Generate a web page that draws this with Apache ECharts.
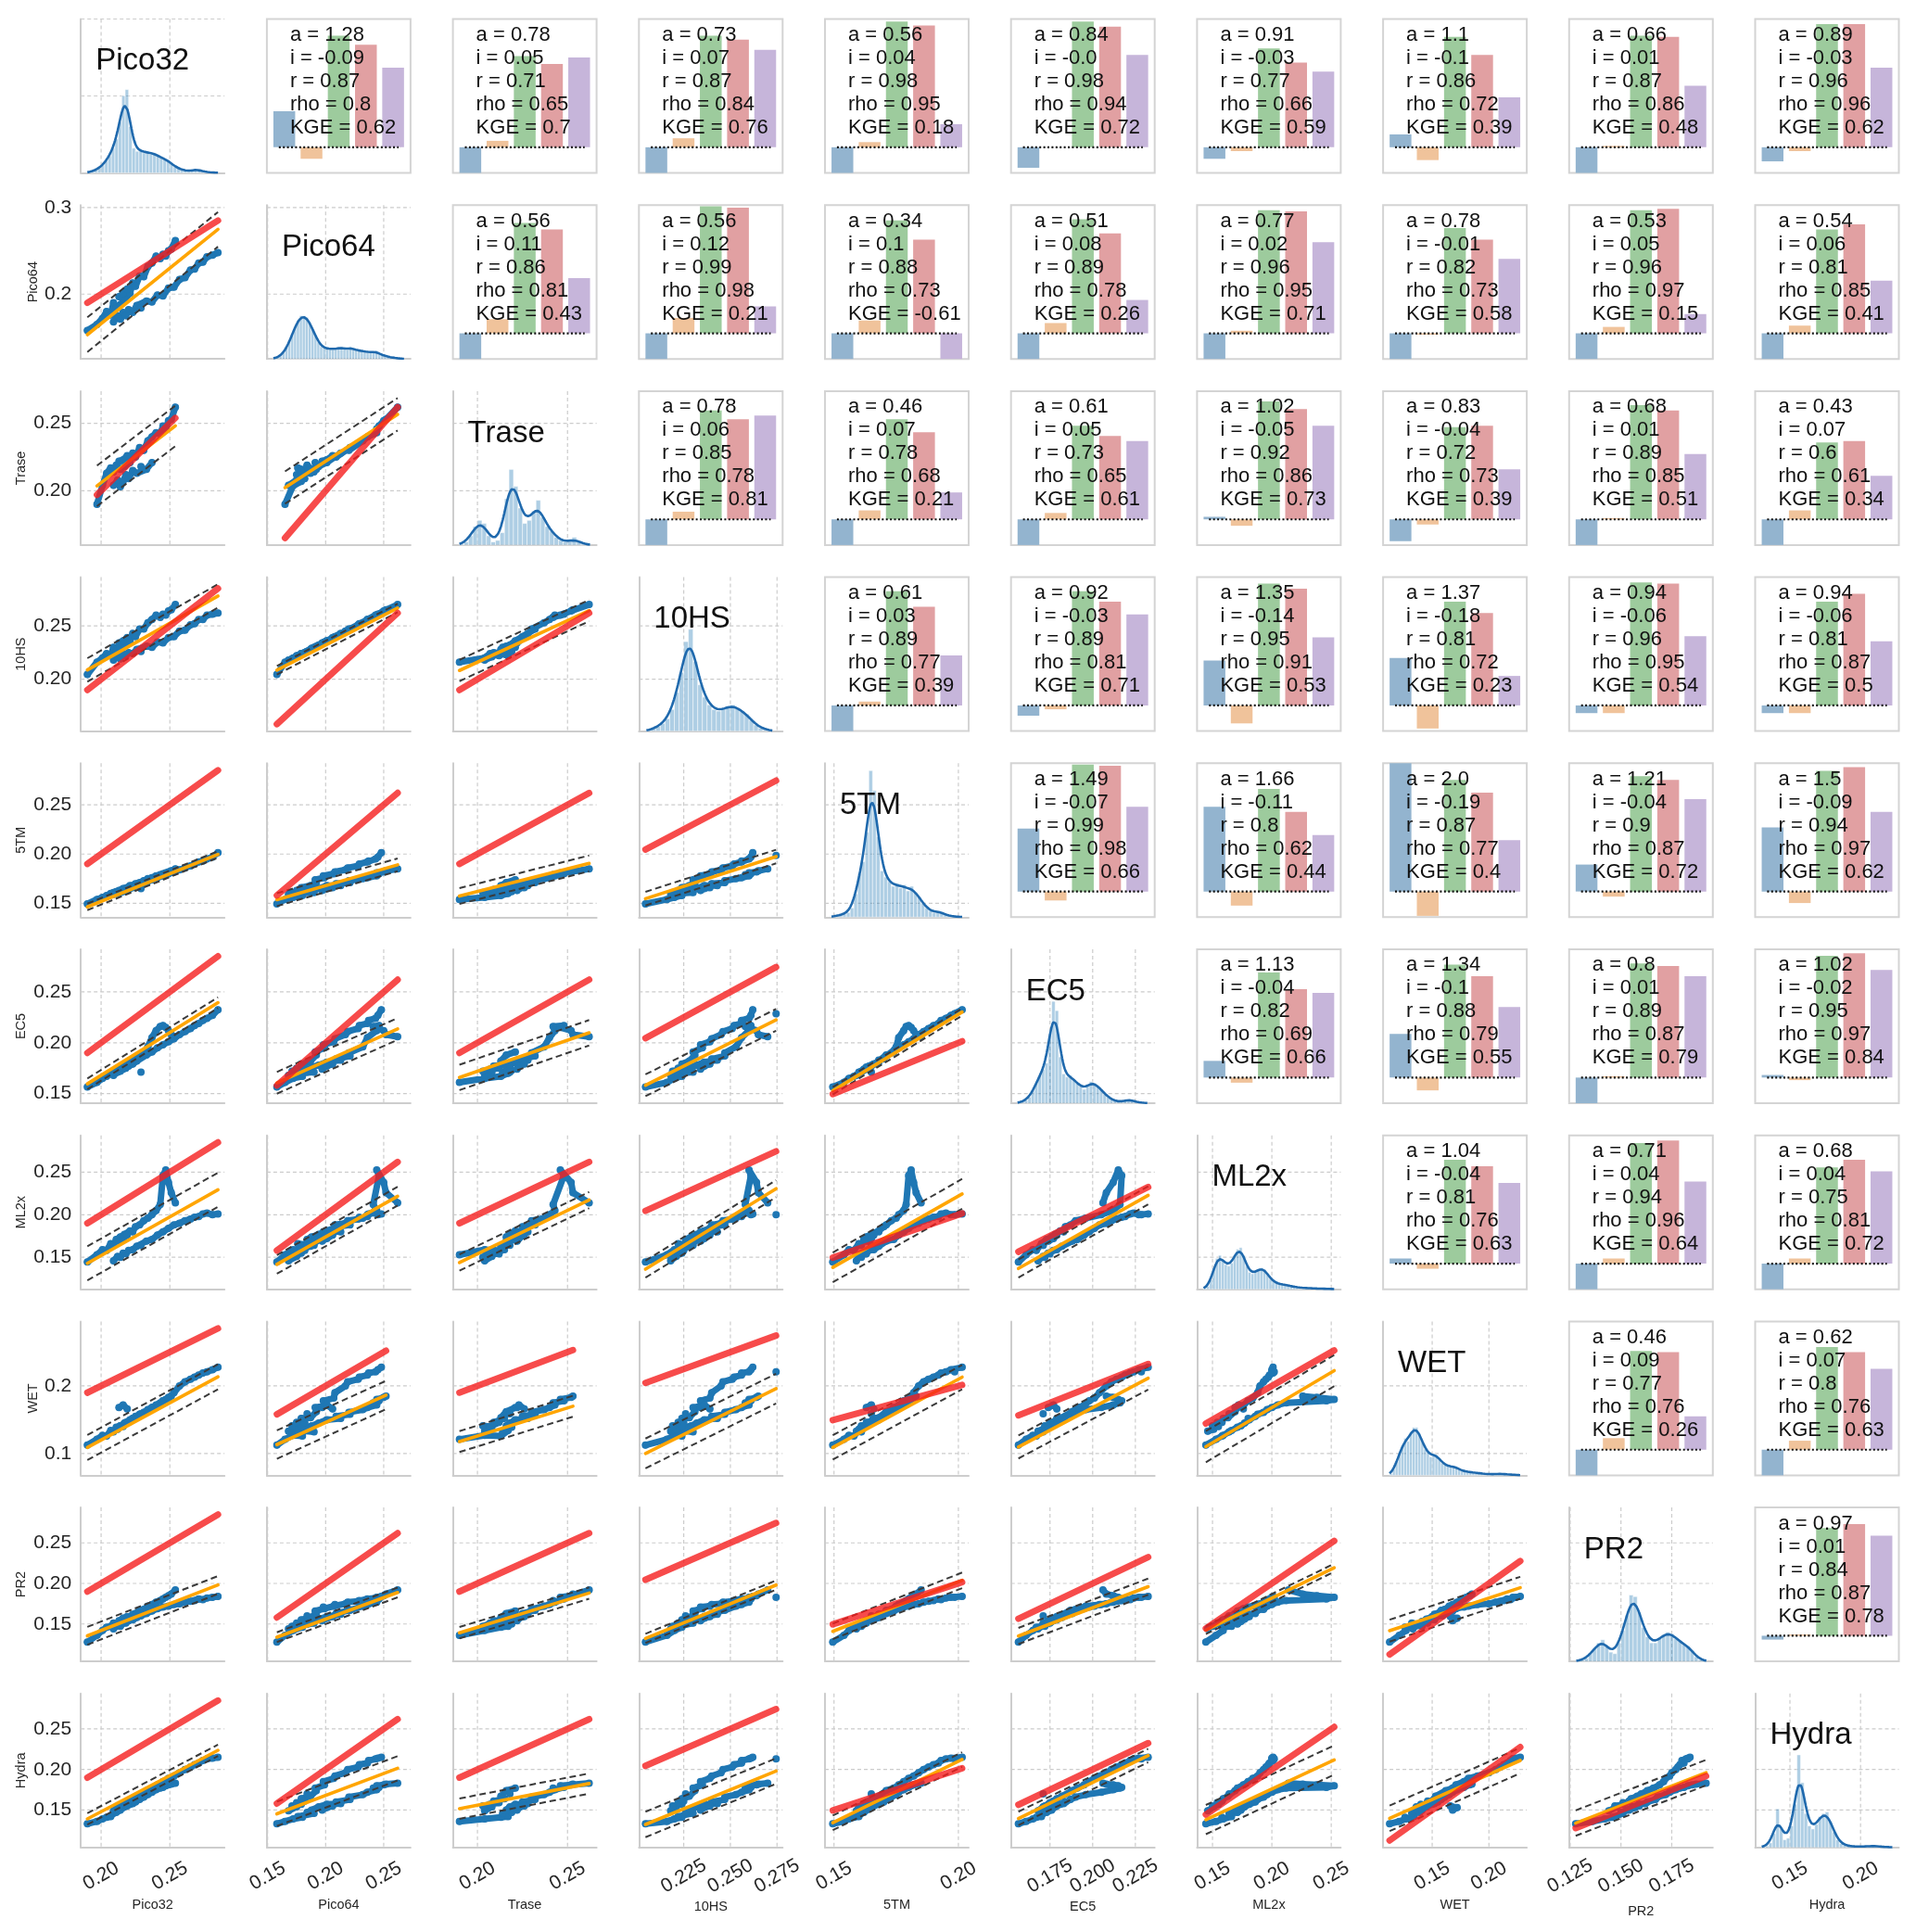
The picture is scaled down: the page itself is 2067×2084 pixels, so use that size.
<!DOCTYPE html>
<html>
<head>
<meta charset="utf-8">
<title>Soil moisture sensor pair plot</title>
<script src="https://cdn.jsdelivr.net/npm/echarts/dist/echarts.min.js"></script>
<style>
html,body{margin:0;padding:0;background:#ffffff;}
#chart{width:2067px;height:2084px;}
</style>
</head>
<body>
<div id="chart"></div>
<script>
// ---------------- DATA ----------------
const sensors = ['Pico32','Pico64','Trase','10HS','5TM','EC5','ML2x','WET','PR2','Hydra'];

// paired readings (same rows = same time); null = missing / segment break
const sPico32 = [0.190,0.197,0.201,0.204,0.207,0.209,0.211,0.214,0.217,0.221,0.223,0.225,0.228,0.231,0.234,0.237,0.240,0.243,0.245,0.247,0.249,0.251,0.254,null,
  0.209,0.212,0.214,0.216,0.218,0.220,0.223,0.226,0.233,0.237,0.241,0.245,0.249,0.253,0.257,0.261,0.265,0.268,0.271,0.274,0.277,0.281,0.285,null,
  0.213,0.216,0.219,null,0.229,null,null];
const sPico64 = [0.158,0.165,0.172,0.180,0.176,0.190,0.184,0.188,0.194,0.201,0.213,0.209,0.221,0.220,0.232,0.236,0.244,0.241,0.246,0.244,0.250,0.252,0.262,null,
  0.168,0.175,0.171,0.179,0.175,0.182,0.179,0.187,0.192,0.191,0.199,0.198,0.207,0.208,0.217,0.219,0.228,0.229,0.236,0.237,0.243,0.245,0.248,null,
  0.197,0.201,0.206,null,0.184,null,null];
const sTrase = [null,0.190,0.204,0.213,0.217,0.214,0.219,0.216,0.218,0.221,0.228,0.225,0.232,0.230,0.237,0.240,0.243,0.242,0.248,0.246,0.252,0.253,0.262,null,
  0.204,0.208,0.203,0.207,0.212,0.209,0.215,0.213,0.216,0.221,null,null,null,null,null,null,null,null,null,null,null,null,null,null,
  0.222,0.223,0.226,null,0.218,null,null];
const s10HS = [0.2045,0.216,0.220,0.224,0.222,0.230,0.226,0.229,0.232,0.236,0.243,0.240,0.247,0.247,0.253,0.256,0.260,0.258,0.261,0.260,0.264,0.265,0.270,null,
  0.218,0.221,0.219,0.224,0.222,0.225,0.224,0.228,0.231,0.230,0.235,0.234,0.239,0.240,0.245,0.246,0.251,0.252,0.256,0.256,0.260,0.261,0.262,null,
  0.234,0.236,0.239,null,0.226,null,0.2745];
const s5TM = [0.1495,0.154,0.156,0.158,0.160,0.161,0.162,0.163,0.165,0.168,0.168,0.170,0.171,0.173,0.175,0.176,0.178,0.179,0.180,0.181,0.182,0.183,0.185,null,
  0.159,0.160,0.161,0.162,0.163,0.164,0.166,0.168,0.171,0.174,0.176,0.178,0.180,0.182,0.184,0.186,0.188,0.190,0.192,0.193,0.195,0.197,0.2015,null,
  0.163,0.165,0.166,null,0.165,null,0.1985];
const sEC5 = [0.1565,0.161,0.165,0.167,0.170,0.171,0.173,0.176,0.178,0.181,0.183,0.184,0.187,0.190,0.196,0.205,0.212,0.216,0.217,0.215,0.212,0.208,0.206,null,
  0.168,0.171,0.172,0.174,0.175,0.177,0.179,0.182,0.188,0.191,0.195,0.198,0.201,0.204,0.208,0.211,0.214,0.217,0.219,0.222,0.224,0.227,0.2325,null,
  0.174,0.177,0.179,null,0.171,null,0.2285];
const sML2x = [0.1444,0.153,0.159,0.158,0.166,0.164,0.171,0.174,0.177,0.181,0.180,0.186,0.188,0.193,0.196,0.200,0.205,0.212,0.246,0.2525,0.238,0.226,0.214,null,
  0.146,0.151,0.150,0.155,0.154,0.158,0.159,0.163,0.169,0.171,0.176,0.180,0.184,0.188,0.190,0.193,0.195,0.197,0.198,0.201,0.202,0.200,0.201,null,
  0.169,0.172,0.176,null,0.164,null,0.200];
const sWET = [0.1125,0.121,0.127,0.126,0.134,0.132,0.139,0.141,0.145,0.150,0.152,0.155,0.158,0.161,0.165,0.168,0.172,0.175,0.178,0.180,0.183,0.185,null,null,
  0.133,0.136,0.141,0.140,0.146,0.146,0.152,0.153,0.162,0.168,0.171,0.178,0.182,0.190,0.200,0.206,0.210,0.213,0.216,0.219,0.221,0.224,0.2276,null,
  0.168,0.172,0.166,null,0.159,null,0.221];
const sPR2 = [0.1277,0.136,0.142,0.146,0.147,0.151,0.150,0.153,0.156,0.159,0.162,0.163,0.167,0.168,0.172,0.174,0.177,0.179,0.181,0.183,0.185,0.187,0.1919,null,
  0.144,0.148,0.147,0.151,0.151,0.154,0.155,0.158,0.163,0.166,0.169,0.171,0.172,0.174,0.175,0.177,0.178,0.179,0.181,0.180,0.182,0.183,0.184,null,
  0.154,0.157,0.159,null,0.160,null,0.183];
const sHydra = [0.133,0.136,0.139,0.141,0.142,0.146,0.147,0.150,0.154,0.157,0.158,0.160,0.163,0.166,0.169,0.172,0.175,0.177,0.178,0.180,0.181,0.182,0.183,null,
  0.149,0.154,0.155,0.157,0.159,0.161,0.164,0.167,0.174,0.177,0.181,0.185,0.189,0.192,0.196,0.200,0.203,0.206,0.208,0.211,0.213,0.214,0.215,null,
  0.150,0.153,0.155,null,0.170,null,0.213];

// upper-triangle statistics: row i holds pairs (i, j) for j = i+1 .. 9
const statA = [
  [1.28,0.78,0.73,0.56,0.84,0.91,1.1,0.66,0.89],
  [0.56,0.56,0.34,0.51,0.77,0.78,0.53,0.54],
  [0.78,0.46,0.61,1.02,0.83,0.68,0.43],
  [0.61,0.92,1.35,1.37,0.94,0.94],
  [1.49,1.66,2.0,1.21,1.5],
  [1.13,1.34,0.8,1.02],
  [1.04,0.71,0.68],
  [0.46,0.62],
  [0.97]];
const statI = [
  [-0.09,0.05,0.07,0.04,-0.0,-0.03,-0.1,0.01,-0.03],
  [0.11,0.12,0.1,0.08,0.02,-0.01,0.05,0.06],
  [0.06,0.07,0.05,-0.05,-0.04,0.01,0.07],
  [0.03,-0.03,-0.14,-0.18,-0.06,-0.06],
  [-0.07,-0.11,-0.19,-0.04,-0.09],
  [-0.04,-0.1,0.01,-0.02],
  [-0.04,0.04,0.04],
  [0.09,0.07],
  [0.01]];
const statR = [
  [0.87,0.71,0.87,0.98,0.98,0.77,0.86,0.87,0.96],
  [0.86,0.99,0.88,0.89,0.96,0.82,0.96,0.81],
  [0.85,0.78,0.73,0.92,0.72,0.89,0.6],
  [0.89,0.89,0.95,0.81,0.96,0.81],
  [0.99,0.8,0.87,0.9,0.94],
  [0.82,0.88,0.89,0.95],
  [0.81,0.94,0.75],
  [0.77,0.8],
  [0.84]];
const statRho = [
  [0.8,0.65,0.84,0.95,0.94,0.66,0.72,0.86,0.96],
  [0.81,0.98,0.73,0.78,0.95,0.73,0.97,0.85],
  [0.78,0.68,0.65,0.86,0.73,0.85,0.61],
  [0.77,0.81,0.91,0.72,0.95,0.87],
  [0.98,0.62,0.77,0.87,0.97],
  [0.69,0.79,0.87,0.97],
  [0.76,0.96,0.81],
  [0.76,0.76],
  [0.87]];
const statKGE = [
  [0.62,0.7,0.76,0.18,0.72,0.59,0.39,0.48,0.62],
  [0.43,0.21,-0.61,0.26,0.71,0.58,0.15,0.41],
  [0.81,0.21,0.61,0.73,0.39,0.51,0.34],
  [0.39,0.71,0.53,0.23,0.54,0.5],
  [0.66,0.44,0.4,0.72,0.62],
  [0.66,0.55,0.79,0.84],
  [0.63,0.64,0.72],
  [0.26,0.63],
  [0.78]];

// half-width of dashed band around the fit, lower panels: row r (1..9), col c (0..r-1)
const band = [
  [0.02],
  [0.015,0.012],
  [0.011,0.004,0.010],
  [0.0033,0.0065,0.008,0.0069],
  [0.0053,0.0107,0.0125,0.0107,0.0036],
  [0.020,0.011,0.0095,0.010,0.0175,0.0106],
  [0.0185,0.021,0.0155,0.022,0.018,0.017,0.023],
  [0.011,0.006,0.007,0.0057,0.0096,0.010,0.005,0.0135],
  [0.007,0.015,0.0125,0.0157,0.009,0.0083,0.018,0.0157,0.0157]];

// diagonal histograms (bar heights in shared density units)
const histStart = [0.19,0.155,0.19,0.205,0.149,0.156,0.1425,0.1125,0.128,0.13];
const histStep  = [0.0025,0.0025,0.0025,0.0025,0.0015,0.002,0.0025,0.0025,0.002,0.0025];
const histHeights = [
  [0.5,1,2,3,5,8,11,16,22,33,50,54,30,16,14,15,13,14,12,13,11,10,9,8,6,4,3,2,1.5,1,1.5,2.5,2,1,0.5,0.5,0.3,0.2],
  [0.5,1,2,4,7,11,16,21,25,28,28,27,24,19,15,11,8,7,6.5,7,6,7,6.5,8,6.5,6,8,6,6,5.5,5,5,4.5,4.5,4,5.5,3,2.5,2,1.5,1,0.8,0.5,0.3,0.2],
  [0.5,2,6,12,16,14,6,2,3,8,30,49,38,24,14,16,22,29,18,12,9,5,3,2,2,5,2,0.5,0.3],
  [0.5,1.5,3,5,8,14,25,38,58,66,45,30,22,17,14,13,14,16,17,15,13,11,7,4,2,1,0.5],
  [0.5,1,1.5,2,3,6,15,28,36,55,95,82,52,30,26,23,20,22,19,21,17,20,16,13,9,6,4,3,4,3,1.5,1,0.5,0.3,0.2],
  [0.5,1,2,4,8,13,18,22,26,45,66,60,30,19,17,18,15,13,11,9,11,14,13,11,9,6,4,2.5,1.5,1,1,1.5,2.5,2,1,0.5,0.3,0.2],
  [0.5,2,6,14,20,22,19,16,15,17,22,26,27,22,15,11,10,11,13,14,13,10,7,5,4,3.5,3,3,2.5,2,1.5,1.5,1,1,0.8,0.8,0.6,0.5,0.5,0.4,0.4,0.3,0.2,0.2],
  [1,4,9,14,19,24,22,28,31,31,27,22,17,15,12,14,13,11,8,7,6,5.5,6,5,4,3,2.5,2.5,2,2,1.5,1.5,1.2,1,0.8,0.8,0.7,0.8,1,1,0.8,0.6,0.5,0.4,0.3,0.2],
  [0.5,1,2,5,8,12,14,10,6,5,12,20,30,43,42,32,22,16,12,12,15,17,19,18,15,13,11,10,7,3,1,0.5],
  [0.5,1,3,9,25,12,5,6,14,28,60,42,22,14,12,15,20,22,23,17,10,5,2.5,1.5,1,0.8,0.6,0.6,0.6,0.7,0.8,1,0.9,0.6,0.4,0.3,0.2]];

// tick values and labels
const xTicks = [[0.20,0.25],[0.15,0.20,0.25],[0.20,0.25],[0.225,0.250,0.275],[0.15,0.20],[0.175,0.200,0.225],[0.15,0.20,0.25],[0.15,0.20],[0.125,0.150,0.175],[0.15,0.20]];
const xTickLabels = [['0.20','0.25'],['0.15','0.20','0.25'],['0.20','0.25'],['0.225','0.250','0.275'],['0.15','0.20'],['0.175','0.200','0.225'],['0.15','0.20','0.25'],['0.15','0.20'],['0.125','0.150','0.175'],['0.15','0.20']];
const yTicks = [[0.5,1.0],[0.2,0.3],[0.20,0.25],[0.20,0.25],[0.15,0.20,0.25],[0.15,0.20,0.25],[0.15,0.20,0.25],[0.1,0.2],[0.15,0.20,0.25],[0.15,0.20,0.25]];
const yTickLabels = [['',''],['0.2','0.3'],['0.20','0.25'],['0.20','0.25'],['0.15','0.20','0.25'],['0.15','0.20','0.25'],['0.15','0.20','0.25'],['0.1','0.2'],['0.15','0.20','0.25'],['0.15','0.20','0.25']];

// ---------------- LAYOUT / STYLE ----------------
const S = [sPico32,sPico64,sTrase,s10HS,s5TM,sEC5,sML2x,sWET,sPR2,sHydra];
const N = sensors.length;
const L0 = 87.2, T0 = 20.5, STEP = 200.7, PW = 155, PH = 166;
const Lx = c => L0 + c*STEP, Ty = r => T0 + r*STEP;
const FONT = "'Liberation Sans', Arial, Helvetica, sans-serif";
const TXT = '#262626';
const BLUE = '#1f77b4';
const BAR_COLORS = ['#93b4cf','#f0c39b','#9dcb9d','#e1a0a2','#c6b5da'];
const SPINE = {show:true, onZero:false, lineStyle:{color:'#cdcdcd', width:2}};

function pyStr(v){ if (Object.is(v,-0)) return '-0.0'; if (Number.isInteger(v)) return v.toFixed(1); return String(v); }
function pad(lo,hi){ const d=(hi-lo)*0.05; return [lo-d, hi+d]; }
function inRange(v,lim){ return v>=lim[0]-1e-9 && v<=lim[1]+1e-9; }
function fmt(ticks,labels){ return v => { for (let i=0;i<ticks.length;i++) if (Math.abs(ticks[i]-v)<1e-7) return labels[i]; return ''; }; }

// per-panel point lists and extents
const panels = {};
for (let r=1;r<N;r++) for (let c=0;c<r;c++){
  const pts=[]; let x0=Infinity,x1=-Infinity,y0=Infinity,y1=-Infinity;
  for (let k=0;k<S[0].length;k++){
    const x=S[c][k], y=S[r][k];
    if (x==null || y==null){ pts.push(['-','-']); continue; }
    pts.push([x,y]);
    x0=Math.min(x0,x); x1=Math.max(x1,x); y0=Math.min(y0,y); y1=Math.max(y1,y);
  }
  panels[r+'_'+c] = {pts,x0,x1,y0,y1,a:statA[c][r-c-1],b:statI[c][r-c-1],bd:band[r-1][c]};
}
// shared axis limits (columns share x, rows share y)
const xlim=[], ylim=[];
for (let c=0;c<N;c++){
  let lo=histStart[c], hi=histStart[c]+histStep[c]*histHeights[c].length;
  for (let r=c+1;r<N;r++){ const p=panels[r+'_'+c]; lo=Math.min(lo,p.x0); hi=Math.max(hi,p.x1); }
  xlim.push(pad(lo,hi));
}
ylim.push([0,1]);
for (let r=1;r<N;r++){
  let lo=Infinity, hi=-Infinity;
  for (let c=0;c<r;c++){
    const p=panels[r+'_'+c]; const f0=p.a*p.x0+p.b, f1=p.a*p.x1+p.b;
    lo=Math.min(lo,p.y0,p.x0,f0-p.bd,f1-p.bd);
    hi=Math.max(hi,p.y1,p.x1,f0+p.bd,f1+p.bd);
  }
  ylim.push(pad(lo,hi));
}
// KDE from histogram bins
const kdeCurves = histHeights.map((h,s)=>{
  const st=histStart[s], w=histStep[s], bw=w*1.15, lo=st, hi=st+w*h.length, out=[];
  for (let k=0;k<=160;k++){
    const x=lo+(hi-lo)*k/160; let d=0;
    for (let b=0;b<h.length;b++){ const z=(x-(st+(b+0.5)*w))/bw; d+=h[b]*w*Math.exp(-0.5*z*z); }
    out.push([x, d/(bw*Math.sqrt(2*Math.PI))]);
  }
  return out;
});
let diagMax=0;
histHeights.forEach(h=>h.forEach(v=>{diagMax=Math.max(diagMax,v);}));
kdeCurves.forEach(cv=>cv.forEach(p=>{diagMax=Math.max(diagMax,p[1]);}));
diagMax*=1.05;

function gridRenderer(xl,yl){
  return function(params,api){
    const t=api.value(0), v=api.value(1), cs=params.coordSys; let shape;
    if (t===0){ const px=api.coord([v,yl[0]])[0]; shape={x1:px,y1:cs.y,x2:px,y2:cs.y+cs.height}; }
    else { const py=api.coord([xl[0],v])[1]; shape={x1:cs.x,y1:py,x2:cs.x+cs.width,y2:py}; }
    return {type:'line', shape, silent:true, style:{stroke:'#cccccc', lineWidth:1.2, lineDash:[4,3]}};
  };
}

const grids=[], xAxes=[], yAxes=[], series=[], graphics=[];

for (let r=0;r<N;r++) for (let c=0;c<N;c++){
  const gi=grids.length;
  if (r<c){
    // ---------- upper: statistics bars ----------
    grids.push({left:Lx(c), top:Ty(r), width:PW, height:PH, show:true, borderColor:'#d4d4d4', borderWidth:2, backgroundColor:'transparent'});
    const xi=xAxes.length, yi=yAxes.length;
    xAxes.push({type:'value', gridIndex:gi, min:-0.64, max:4.64, show:false});
    yAxes.push({type:'value', gridIndex:gi, min:-0.2, max:1.0, show:false});
    const j=c-r-1;
    const a=statA[r][j], ic=statI[r][j], rr=statR[r][j], rho=statRho[r][j], kge=statKGE[r][j];
    const vals=[a-1, ic, rr, rho, kge];
    series.push({type:'custom', xAxisIndex:xi, yAxisIndex:yi, z:2, silent:true,
      data: vals.map((v,k)=>[k,v]),
      renderItem:(params,api)=>{
        const k=api.value(0), v=Math.max(-0.2, Math.min(1.0, api.value(1)));
        const p1=api.coord([k-0.4, v]), p2=api.coord([k+0.4, 0]);
        return {type:'rect', shape:{x:p1[0], y:Math.min(p1[1],p2[1]), width:p2[0]-p1[0], height:Math.abs(p2[1]-p1[1])}, style:{fill:BAR_COLORS[k]}};
      }});
    series.push({type:'line', xAxisIndex:xi, yAxisIndex:yi, z:3, silent:true, symbol:'none',
      data:[[-0.2,0],[4.2,0]], lineStyle:{color:'#111111', width:2.2, type:[2,2.4]}});
    const lines=['a = '+pyStr(a),'i = '+pyStr(ic),'r = '+pyStr(rr),'rho = '+pyStr(rho),'KGE = '+pyStr(kge)];
    lines.forEach((t,k)=>graphics.push({type:'text', x:Lx(c)+25, y:Ty(r)+17.4+25*k, z:100, silent:true,
      style:{text:t, fontSize:22, fontFamily:FONT, fill:'#111111', align:'left', verticalAlign:'middle'}}));
    continue;
  }
  // ---------- lower & diagonal ----------
  grids.push({left:Lx(c), top:Ty(r), width:PW, height:PH});
  const xl=xlim[c], yl=ylim[r];
  const xi=xAxes.length, yi=yAxes.length;
  const xt=xTicks[c].filter(v=>inRange(v,xl));
  const yt=yTicks[r].filter(v=>inRange(v,yl));
  xAxes.push({type:'value', gridIndex:gi, min:xl[0], max:xl[1], axisLine:SPINE, axisTick:{show:false}, splitLine:{show:false},
    axisLabel: r===N-1 ? {show:true, customValues:xt, formatter:fmt(xTicks[c],xTickLabels[c]), rotate:30, align:'center', verticalAlign:'middle',
      margin:31, fontSize:21, color:TXT, fontFamily:FONT} : {show:false}});
  yAxes.push({type:'value', gridIndex:gi, min:yl[0], max:yl[1], axisLine:SPINE, axisTick:{show:false}, splitLine:{show:false},
    axisLabel: (c===0 && r>0) ? {show:true, customValues:yt, formatter:fmt(yTicks[r],yTickLabels[r]), margin:10, fontSize:21, color:TXT, fontFamily:FONT} : {show:false}});
  const gdata=xt.map(v=>[0,v]).concat(yt.map(v=>[1,v]));
  series.push({type:'custom', xAxisIndex:xi, yAxisIndex:yi, z:1, silent:true, data:gdata, renderItem:gridRenderer(xl,yl)});

  if (r===c){
    // ---------- diagonal: histogram + KDE ----------
    const yh=yAxes.length;
    yAxes.push({type:'value', gridIndex:gi, min:0, max:diagMax, show:false, position:'left'});
    const st=histStart[c], w=histStep[c];
    series.push({type:'custom', xAxisIndex:xi, yAxisIndex:yh, z:3, silent:true,
      data: histHeights[c].map((h,b)=>[st+b*w, h, st+(b+1)*w]),
      renderItem:(params,api)=>{
        const p1=api.coord([api.value(0), api.value(1)]), p2=api.coord([api.value(2), 0]);
        return {type:'rect', shape:{x:p1[0], y:p1[1], width:p2[0]-p1[0], height:p2[1]-p1[1]},
          style:{fill:'rgba(31,119,180,0.36)', stroke:'#ffffff', lineWidth:0.5}};
      }});
    series.push({type:'line', xAxisIndex:xi, yAxisIndex:yh, z:4, silent:true, symbol:'none', data:kdeCurves[c],
      lineStyle:{color:'#1f69ad', width:2.6}});
    graphics.push({type:'text', x:Lx(c)+16, y:Ty(r)+45.6, z:100, silent:true,
      style:{text:sensors[c], fontSize:33, fontFamily:FONT, fill:'#111111', align:'left', verticalAlign:'middle'}});
  } else {
    // ---------- lower: scatter + fit lines ----------
    const p=panels[r+'_'+c];
    const f=x=>p.a*x+p.b;
    series.push({type:'line', xAxisIndex:xi, yAxisIndex:yi, z:2, silent:true, data:p.pts, connectNulls:false,
      symbol:'circle', symbolSize:8, showSymbol:true, showAllSymbol:true,
      lineStyle:{color:BLUE, width:7, join:'round', cap:'round'}, itemStyle:{color:BLUE}});
    [p.bd,-p.bd].forEach(d=>series.push({type:'line', xAxisIndex:xi, yAxisIndex:yi, z:3, silent:true, symbol:'none',
      data:[[p.x0,f(p.x0)+d],[p.x1,f(p.x1)+d]], lineStyle:{color:'#3a3a3a', width:2, type:[7,4]}}));
    series.push({type:'line', xAxisIndex:xi, yAxisIndex:yi, z:4, silent:true, symbol:'none',
      data:[[p.x0,f(p.x0)],[p.x1,f(p.x1)]], lineStyle:{color:'#ffa500', width:3.6, cap:'round'}});
    series.push({type:'line', xAxisIndex:xi, yAxisIndex:yi, z:5, silent:true, symbol:'none',
      data:[[p.x0,p.x0],[p.x1,p.x1]], lineStyle:{color:'rgba(245,30,30,0.8)', width:7, cap:'round'}});
  }
}

// axis titles
const xNameY = [2055,2055,2055,2057,2055,2057,2055,2055,2062,2055];
for (let c=0;c<N;c++){
  graphics.push({type:'text', x:Lx(c)+PW/2, y:xNameY[c], z:100, silent:true,
    style:{text:sensors[c], fontSize:14.5, fontFamily:FONT, fill:TXT, align:'center', verticalAlign:'middle'}});
}
for (let r=1;r<N;r++){
  const shortLbl = (r===1 || r===7);
  graphics.push({type:'text', x: shortLbl ? 36 : 23, y:Ty(r)+PH/2, rotation:Math.PI/2, z:100, silent:true,
    style:{text:sensors[r], fontSize:14.5, fontFamily:FONT, fill:TXT, align:'center', verticalAlign:'middle'}});
}

const chart = echarts.init(document.getElementById('chart'), null, {renderer:'canvas', width:2067, height:2084});
chart.setOption({
  animation:false,
  backgroundColor:'#ffffff',
  grid:grids, xAxis:xAxes, yAxis:yAxes, series:series,
  graphic:{elements:graphics}
});
</script>
</body>
</html>
